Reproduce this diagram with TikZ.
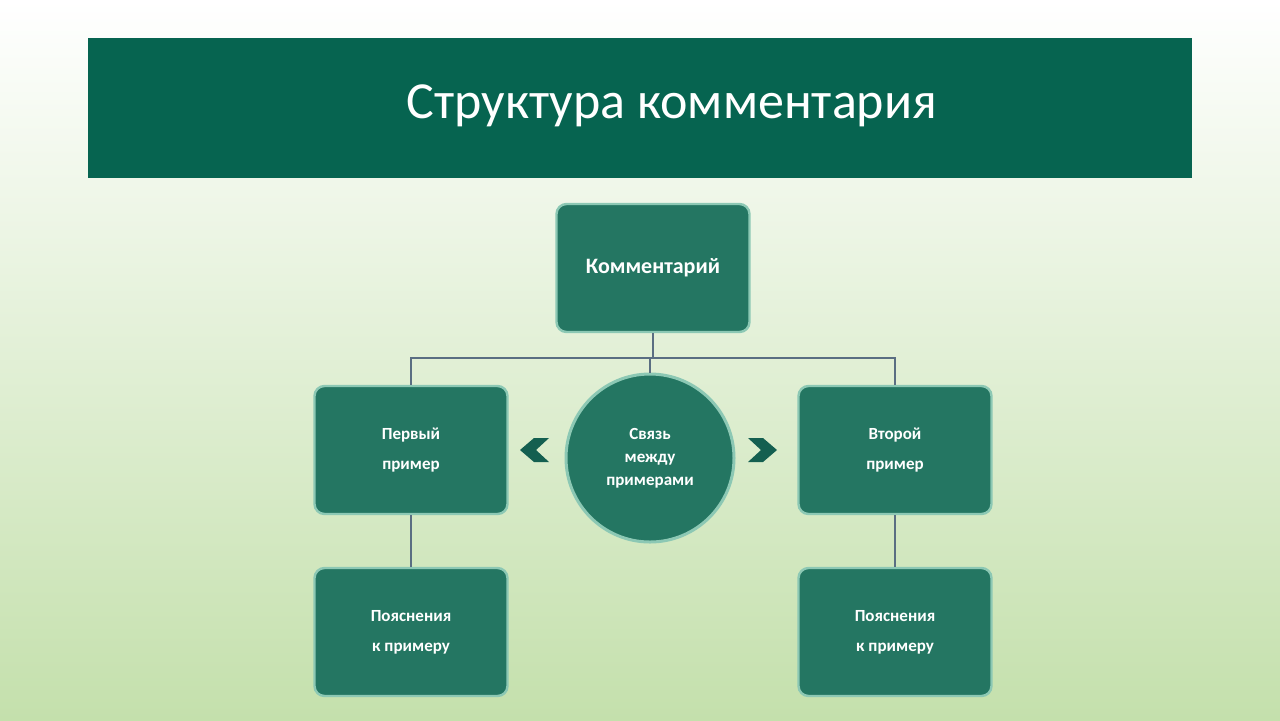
\documentclass[tikz,border=0pt]{standalone}
\usepackage{fontspec}
\setmainfont{Carlito}
\definecolor{banner}{RGB}{6,100,80}
\definecolor{boxf}{RGB}{36,118,98}
\definecolor{boxd}{RGB}{140,200,180}
\definecolor{conn}{RGB}{90,110,130}
\definecolor{chev}{RGB}{20,95,80}
\begin{document}
\begin{tikzpicture}[x=0.5pt,y=-0.5pt,
  box/.style={draw=boxd,line width=1.2pt,fill=boxf,rounded corners=5pt,minimum width=96.5pt,minimum height=64pt,text=white,font=\bfseries\fontsize{8.5}{15}\selectfont,align=center,inner sep=0pt},
  con/.style={draw=conn,line width=0.6pt}]
\shade[top color=white,bottom color={rgb,255:red,196;green,224;blue,172}] (0,0) rectangle (1280,720);
\useasboundingbox (0,0) rectangle (1280,720);
\fill[banner] (88,38) rectangle (1192,178);
\node[text=white,font=\fontsize{26}{30}\selectfont] (title) at (672,106) {Структура комментария};
\node[box,font=\bfseries\fontsize{11}{13}\selectfont] (k) at (653,268) {Комментарий};
\node[box] (p1) at (411,450) {Первый\\пример};
\node[box] (p2) at (895,450) {Второй\\пример};
\node[box] (e1) at (411,632) {Пояснения\\к примеру};
\node[box] (e2) at (895,632) {Пояснения\\к примеру};
\node[circle,draw=boxd,line width=1.5pt,fill=boxf,minimum size=84pt,text=white,align=center,inner sep=0pt,font=\bfseries\fontsize{8.5}{11.5}\selectfont] (c) at (650,458) {Связь\\между\\примерами};
\coordinate (h) at (653,358);
\draw[con] (k.south) -- (h);
\draw[con] (p1.north) |- (h) -| (p2.north);
\draw[con] (c.north) -- (c.north |- h);
\draw[con] (p1.south) -- (e1.north);
\draw[con] (p2.south) -- (e2.north);
\fill[chev] (520,450) -- (534,438) -- (549,438) -- (536,450) -- (549,462) -- (534,462) -- cycle;
\fill[chev] (777,450) -- (763,438) -- (748,438) -- (761,450) -- (748,462) -- (763,462) -- cycle;
\end{tikzpicture}
\end{document}
